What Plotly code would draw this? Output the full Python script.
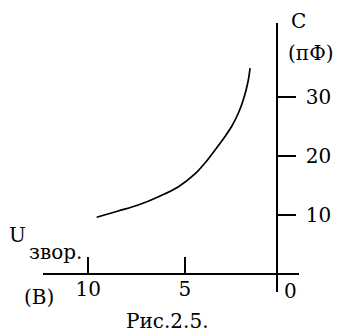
import plotly.graph_objects as go

# Varicap capacitance vs. reverse voltage
u_rev = [9.56, 8.45, 7.41, 6.39, 5.35, 4.48, 3.96, 3.44, 2.98, 2.57, 2.21, 1.95, 1.74, 1.63]
c_pf = [9.61, 10.68, 11.69, 13.05, 14.74, 16.94, 18.8, 21.0, 23.03, 25.06, 27.43, 29.8, 32.5, 34.87]

x_ticks = [10, 5]
x_tick_text = ["10", "5"]
y_ticks = [10, 20, 30]
y_tick_text = ["10", "20", "30"]

W, H = 337, 336
FONT = dict(family="DejaVu Serif", size=20, color="black")


def px(x):
    return x / W


def py(y):
    return 1 - y / H


fig = go.Figure()
fig.add_trace(go.Scatter(
    x=u_rev, y=c_pf, mode="lines",
    line=dict(color="black", width=1.7, shape="spline", smoothing=1.0),
    hoverinfo="skip", showlegend=False,
))
# empty trace that carries the label axis
fig.add_trace(go.Scatter(x=[], y=[], xaxis="x2", yaxis="y",
                         hoverinfo="skip", showlegend=False))

X_RANGE = [12.32, -0.90]
X_DOMAIN = [px(43.3), px(299)]

fig.update_layout(
    width=W, height=H,
    margin=dict(l=0, r=0, t=0, b=0),
    paper_bgcolor="white", plot_bgcolor="white",
    font=FONT,
    xaxis=dict(
        domain=X_DOMAIN, range=X_RANGE,
        anchor="free", position=py(274.1),
        showline=True, linecolor="black", linewidth=2,
        showgrid=False, zeroline=False,
        tickmode="array", tickvals=x_ticks, ticktext=x_tick_text,
        ticks="inside", ticklen=16, tickwidth=2, tickcolor="black",
        showticklabels=False,
    ),
    # tick labels of the voltage axis
    xaxis2=dict(
        domain=X_DOMAIN, range=X_RANGE, overlaying="x",
        anchor="free", position=py(275),
        showline=False, showgrid=False, zeroline=False,
        tickmode="array", tickvals=x_ticks, ticktext=x_tick_text,
        ticks="", tickfont=FONT,
    ),
    yaxis=dict(
        domain=[py(292), py(23)],
        range=[-3.03, 42.49],
        anchor="free", position=px(276.7), side="right",
        showline=True, linecolor="black", linewidth=2,
        showgrid=False, zeroline=False,
        tickmode="array", tickvals=y_ticks, ticktext=y_tick_text,
        ticks="outside", ticklen=18, tickwidth=2, tickcolor="black",
        tickfont=FONT, ticklabelstandoff=6,
    ),
)

labels = [
    ("C", 298, 21),
    ("(пФ)", 311, 53),
    ("U", 17, 235),
    ("звор.", 55, 252),
    ("(В)", 39, 297),
    ("0", 290, 291),
    ("Рис.2.5.", 167.5, 321),
]
for text, x, y in labels:
    fig.add_annotation(
        text=text, x=px(x), y=py(y), xref="paper", yref="paper",
        xanchor="center", yanchor="middle", showarrow=False, font=FONT,
    )

fig.write_html("out.html")
